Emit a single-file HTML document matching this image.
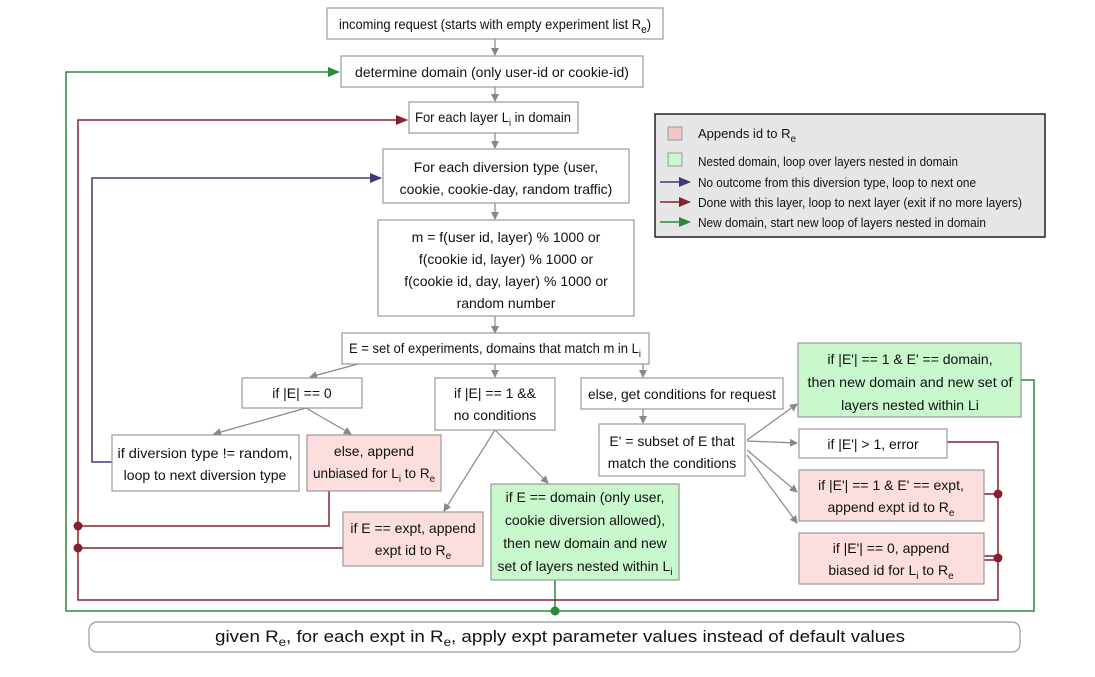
<!DOCTYPE html>
<html><head><meta charset="utf-8">
<style>
html,body{margin:0;padding:0;background:#fff;}
svg text{font-family:"Liberation Sans Narrow","Liberation Sans",sans-serif;font-size:14px;fill:#111;}
</style></head>
<body>
<svg width="1095" height="672" viewBox="0 0 1095 672" xmlns="http://www.w3.org/2000/svg">
<defs>
<marker id="ag" markerWidth="8" markerHeight="8" refX="7" refY="4" orient="auto" markerUnits="userSpaceOnUse"><path d="M0,0 L8,4 L0,8 z" fill="#888"/></marker>
<marker id="ab" markerWidth="12" markerHeight="10" refX="11" refY="5" orient="auto" markerUnits="userSpaceOnUse"><path d="M0,0 L12,5 L0,10 z" fill="#3e3a7a"/></marker>
<marker id="ar" markerWidth="12" markerHeight="10" refX="11" refY="5" orient="auto" markerUnits="userSpaceOnUse"><path d="M0,0 L12,5 L0,10 z" fill="#86202d"/></marker>
<marker id="agr" markerWidth="12" markerHeight="10" refX="11" refY="5" orient="auto" markerUnits="userSpaceOnUse"><path d="M0,0 L12,5 L0,10 z" fill="#2b8a3a"/></marker>
</defs>
<g fill="none" stroke-width="1.5">
<path d="M1021,380 H1034 V611 H66 V72 H339" stroke="#2b8a3a" marker-end="url(#agr)"/>
<path d="M555,580 V611" stroke="#2b8a3a"/>
<path d="M947,442 H998 V600 H78 V120 H407" stroke="#86202d" marker-end="url(#ar)"/>
<path d="M329,491 V526 H78" stroke="#86202d"/>
<path d="M343,548 H78" stroke="#86202d"/>
<path d="M984,494 H998" stroke="#86202d"/>
<path d="M984,556 H998 M984,560 H998" stroke="#86202d"/>
<path d="M112,462 H92 V178 H381" stroke="#3e3a7a" marker-end="url(#ab)"/>
</g>
<g fill="#86202d"><circle cx="78" cy="526" r="4.5"/><circle cx="78" cy="548" r="4.5"/><circle cx="998" cy="494" r="4.5"/><circle cx="998" cy="558" r="4.5"/></g>
<circle cx="555" cy="611" r="4.5" fill="#2b8a3a"/>
<g stroke="#888" stroke-width="1.2" fill="none" marker-end="url(#ag)">
<path d="M495,39 V55"/><path d="M495,87 V101"/><path d="M495,133 V148"/><path d="M495,203 V219"/><path d="M495,316 V333"/>
<path d="M358,364 L310,377"/><path d="M495,364 V377"/><path d="M643,364 V377"/>
<path d="M306,408 L214,434"/><path d="M306,408 L351,434"/>
<path d="M495,430 L444,511"/><path d="M495,430 L548,483"/>
<path d="M643,409 V423"/>
<path d="M747,440 L797,404"/><path d="M747,441 L797,443"/><path d="M747,450 L797,492"/><path d="M747,455 L797,523"/>
</g>
<g stroke="#999" stroke-width="1.2">
<rect x="327" y="8" width="336" height="31" fill="#fff"/>
<rect x="341" y="56" width="302" height="31" fill="#fff"/>
<rect x="409" y="102" width="169" height="31" fill="#fff"/>
<rect x="383" y="149" width="246" height="54" fill="#fff"/>
<rect x="378" y="220" width="256" height="96" fill="#fff"/>
<rect x="342" y="333" width="307" height="31" fill="#fff"/>
<rect x="242" y="378" width="120" height="30" fill="#fff"/>
<rect x="435" y="378" width="120" height="52" fill="#fff"/>
<rect x="581" y="378" width="202" height="31" fill="#fff"/>
<rect x="599" y="424" width="146" height="52" fill="#fff"/>
<rect x="112" y="435" width="187" height="56" fill="#fff"/>
<rect x="307" y="435" width="134" height="56" fill="#fddede"/>
<rect x="343" y="512" width="140" height="54" fill="#fddede"/>
<rect x="491" y="484" width="188" height="96" fill="#c8f8cc"/>
<rect x="798" y="343" width="223" height="74" fill="#c8f8cc"/>
<rect x="799" y="429" width="148" height="29" fill="#fff"/>
<rect x="799" y="470" width="185" height="51" fill="#fddede"/>
<rect x="799" y="533" width="185" height="51" fill="#fddede"/>
<rect x="89" y="622" width="931" height="30" rx="8" fill="#fff"/>
</g>
<rect x="655" y="114" width="390" height="123" fill="#e6e6e6" stroke="#222" stroke-width="1.5"/>
<rect x="668" y="127" width="14" height="13" fill="#f0c8c8" stroke="#999"/>
<rect x="668" y="153" width="14" height="13" fill="#c8f8cc" stroke="#999"/>
<g stroke-width="1.5" fill="none">
<path d="M660,182 H690" stroke="#3e3a7a" marker-end="url(#ab)"/>
<path d="M660,202 H690" stroke="#86202d" marker-end="url(#ar)"/>
<path d="M660,222 H690" stroke="#2b8a3a" marker-end="url(#agr)"/>
</g>
<g>
<text x="698" y="138" style="font-size:13px">Appends id to R<tspan dy="4" style="font-size:10px">e</tspan></text>
<text x="698" y="166" style="font-size:13px" textLength="260" lengthAdjust="spacingAndGlyphs">Nested domain, loop over layers nested in domain</text>
<text x="698" y="187" style="font-size:13px" textLength="278" lengthAdjust="spacingAndGlyphs">No outcome from this diversion type, loop to next one</text>
<text x="698" y="207" style="font-size:13px" textLength="324" lengthAdjust="spacingAndGlyphs">Done with this layer, loop to next layer (exit if no more layers)</text>
<text x="698" y="227" style="font-size:13px" textLength="288" lengthAdjust="spacingAndGlyphs">New domain, start new loop of layers nested in domain</text>
</g>
<g text-anchor="middle">
<text x="495" y="29" textLength="312" lengthAdjust="spacingAndGlyphs">incoming request (starts with  empty experiment list R<tspan dy="4" style="font-size:11px">e</tspan><tspan dy="-4">)</tspan></text>
<text x="492" y="77">determine domain (only user-id or cookie-id)</text>
<text x="493" y="122" textLength="156" lengthAdjust="spacingAndGlyphs">For each layer L<tspan dy="4" style="font-size:10px">i</tspan><tspan dy="-4"> in domain</tspan></text>
<text x="506" y="172">For each diversion type (user,</text>
<text x="506" y="194">cookie, cookie-day, random traffic)</text>
<text x="506" y="242">m = f(user id, layer) % 1000 or</text>
<text x="506" y="264">f(cookie id, layer) % 1000 or</text>
<text x="506" y="286">f(cookie id, day, layer) % 1000 or</text>
<text x="506" y="308">random number</text>
<text x="495" y="353" textLength="292" lengthAdjust="spacingAndGlyphs">E = set of experiments, domains that match m in L<tspan dy="4" style="font-size:10px">i</tspan></text>
<text x="302" y="398">if |E| == 0</text>
<text x="495" y="398">if |E| == 1 &amp;&amp;</text>
<text x="495" y="420">no conditions</text>
<text x="682" y="399" textLength="188" lengthAdjust="spacingAndGlyphs">else, get conditions for request</text>
<text x="672" y="446">E' = subset of E that</text>
<text x="672" y="468">match the conditions</text>
<text x="205" y="458" textLength="175" lengthAdjust="spacingAndGlyphs">if diversion type != random,</text>
<text x="205" y="480">loop to next diversion type</text>
<text x="374" y="456">else, append</text>
<text x="374" y="478" textLength="122" lengthAdjust="spacingAndGlyphs">unbiased for L<tspan dy="4" style="font-size:10px">i</tspan><tspan dy="-4"> to R</tspan><tspan dy="4" style="font-size:10px">e</tspan></text>
<text x="413" y="533">if E == expt, append</text>
<text x="413" y="555">expt id to R<tspan dy="4" style="font-size:10px">e</tspan></text>
<text x="585" y="502">if E == domain (only user,</text>
<text x="585" y="525">cookie diversion allowed),</text>
<text x="585" y="548">then new domain and new</text>
<text x="585" y="571">set of layers nested within L<tspan dy="4" style="font-size:10px">i</tspan></text>
<text x="910" y="364">if |E'| == 1 &amp; E' == domain,</text>
<text x="910" y="387" textLength="205" lengthAdjust="spacingAndGlyphs">then new domain and new set of</text>
<text x="910" y="410">layers nested within Li</text>
<text x="873" y="449">if |E'| &gt; 1, error</text>
<text x="891" y="490">if |E'| == 1 &amp; E' == expt,</text>
<text x="891" y="512">append expt id to R<tspan dy="4" style="font-size:10px">e</tspan></text>
<text x="891" y="553">if |E'| == 0, append</text>
<text x="891" y="575">biased id for L<tspan dy="4" style="font-size:10px">i</tspan><tspan dy="-4"> to R</tspan><tspan dy="4" style="font-size:10px">e</tspan></text>
<text x="560" y="642" style="font-size:17px" textLength="690" lengthAdjust="spacingAndGlyphs">given R<tspan dy="4" style="font-size:12px">e</tspan><tspan dy="-4">, for each expt in R</tspan><tspan dy="4" style="font-size:12px">e</tspan><tspan dy="-4">, apply expt parameter values instead of default values</tspan></text>
</g>
</svg>
</body></html>
